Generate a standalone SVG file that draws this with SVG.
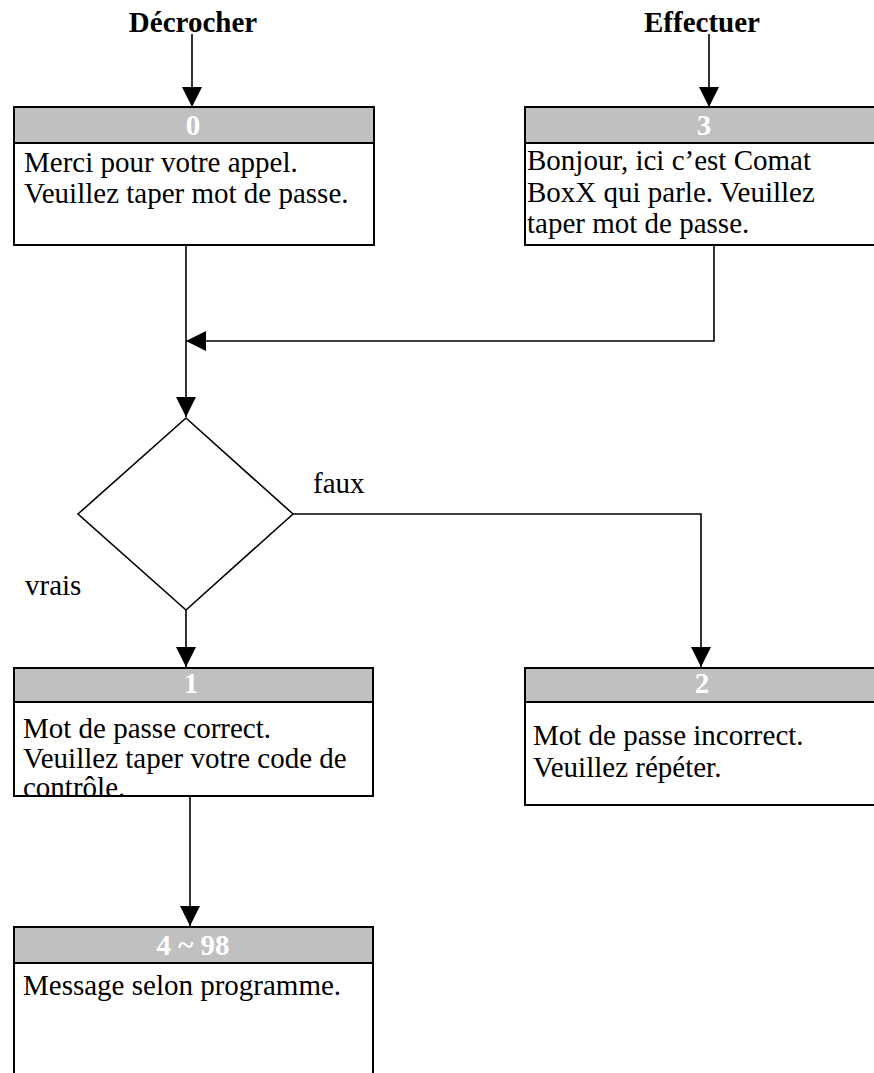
<svg xmlns="http://www.w3.org/2000/svg" width="874" height="1073" viewBox="0 0 874 1073">
<style>
.box{fill:#fff;stroke:#000;stroke-width:2}
.hdr{fill:#c0c0c0;stroke:#000;stroke-width:2}
.ht{font-family:"Liberation Serif",serif;font-weight:bold;font-size:29px;fill:#fff;text-anchor:middle}
.bt{font-family:"Liberation Serif",serif;font-size:29px;fill:#000}
.tt{font-family:"Liberation Serif",serif;font-weight:bold;font-size:29px;fill:#000;text-anchor:middle}
.conn{fill:none;stroke:#000;stroke-width:1.6}
</style>
<defs>
<marker id="arr" markerUnits="userSpaceOnUse" markerWidth="20" markerHeight="20" refX="20" refY="10" orient="auto">
<path d="M0,0 L20,10 L0,20 z" fill="#000"/>
</marker>
</defs>
<rect width="874" height="1073" fill="#fff"/>
<text class="tt" x="193" y="32">Décrocher</text>
<text class="tt" x="702" y="32">Effectuer</text>
<g id="connectors">
<path class="conn" d="M192,34 V107" marker-end="url(#arr)"/>
<path class="conn" d="M709,34 V107" marker-end="url(#arr)"/>
<path class="conn" d="M186,245 V417" marker-end="url(#arr)"/>
<path class="conn" d="M714,245 V341 H186" marker-end="url(#arr)"/>
<path class="conn" d="M186,610 V667" marker-end="url(#arr)"/>
<path class="conn" d="M293,514 H701 V667" marker-end="url(#arr)"/>
<path class="conn" d="M190,796 V926" marker-end="url(#arr)"/>
<text class="bt" x="313" y="493">faux</text>
<text class="bt" x="25" y="595">vrais</text>
</g>
<g id="node0">
<rect class="box" x="14" y="107" width="360" height="138"/>
<rect class="hdr" x="14" y="107" width="360" height="36"/>
<text class="ht" x="193" y="135">0</text>
<text class="bt" x="24" y="172">Merci pour votre appel.</text>
<text class="bt" x="24" y="203">Veuillez taper mot de passe.</text>
</g>
<g id="node3">
<rect class="box" x="525" y="107" width="360" height="138"/>
<rect class="hdr" x="525" y="107" width="360" height="36"/>
<text class="ht" x="704" y="135">3</text>
<text class="bt" x="527" y="170">Bonjour, ici c’est Comat</text>
<text class="bt" x="527" y="201.5">BoxX qui parle. Veuillez</text>
<text class="bt" x="527" y="233">taper mot de passe.</text>
</g>
<g id="decision">
<polygon points="186,418 293,514 186,610 78,514" fill="#fff" stroke="#000" stroke-width="1.6"/>
</g>
<g id="node1">
<rect class="box" x="14" y="668" width="359" height="128"/>
<rect class="hdr" x="14" y="668" width="359" height="34"/>
<text class="ht" x="191" y="693">1</text>
<text class="bt" x="23" y="738">Mot de passe correct.</text>
<text class="bt" x="23" y="767.5">Veuillez taper votre code de</text>
<text class="bt" x="23" y="797">contrôle.</text>
</g>
<g id="node2">
<rect class="box" x="525" y="668" width="360" height="137"/>
<rect class="hdr" x="525" y="668" width="360" height="34"/>
<text class="ht" x="702" y="693">2</text>
<text class="bt" x="533" y="745">Mot de passe incorrect.</text>
<text class="bt" x="533" y="777">Veuillez répéter.</text>
</g>
<g id="node4">
<rect class="box" x="14" y="927" width="359" height="170"/>
<rect class="hdr" x="14" y="927" width="359" height="36"/>
<text class="ht" x="193" y="955">4 ~ 98</text>
<text class="bt" x="23" y="995">Message selon programme.</text>
</g>
</svg>
